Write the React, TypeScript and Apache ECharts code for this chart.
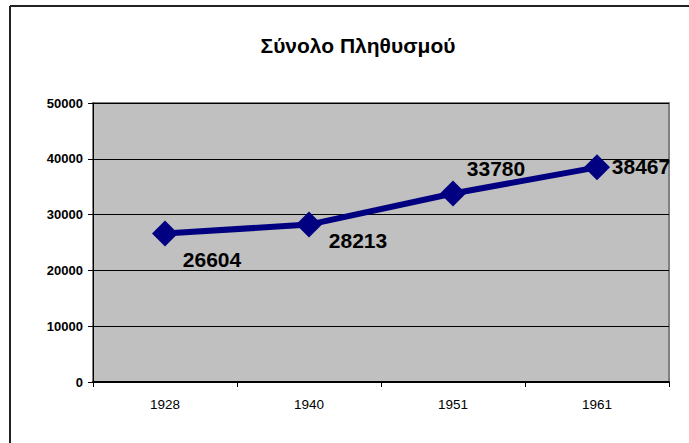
import React, { useEffect, useRef } from "react";
import * as echarts from "echarts";

const title = "Σύνολο Πληθυσμού";
const years = ["1928", "1940", "1951", "1961"];
const population = [26604, 28213, 33780, 38467];
const yTicks = { min: 0, max: 50000, interval: 10000 };

// label placement (style only)
const labelOffsets: [number, number][] = [
  [47, 26],
  [49, 16],
  [43, -25],
  [44, -1],
];

export default function App() {
  const ref = useRef<HTMLDivElement>(null);
  useEffect(() => {
    if (!ref.current) return;
    const chart = echarts.init(ref.current, null, { renderer: "svg" });
    chart.setOption({
      animation: false,
      backgroundColor: "#ffffff",
      title: {
        text: title,
        left: 353,
        top: 30,
        textAlign: "center",
        textStyle: {
          fontFamily: "Arial, Liberation Sans, sans-serif",
          fontWeight: "bold",
          fontSize: 21,
          color: "#000",
        },
      },
      graphic: [
        {
          type: "line",
          shape: { x1: 10, y1: 6, x2: 689, y2: 6 },
          style: { stroke: "#222", lineWidth: 2 },
        },
        {
          type: "line",
          shape: { x1: 10, y1: 6, x2: 10, y2: 443 },
          style: { stroke: "#222", lineWidth: 2 },
        },
      ],
      grid: {
        show: true,
        left: 93,
        top: 103,
        right: 20,
        bottom: 61,
        backgroundColor: "#C0C0C0",
        borderColor: "#808080",
        borderWidth: 2,
      },
      xAxis: {
        type: "category",
        data: years,
        boundaryGap: true,
        axisLine: { show: true, lineStyle: { color: "#000", width: 2 } },
        axisTick: { show: true, length: 5, lineStyle: { color: "#000" } },
        axisLabel: {
          margin: 15,
          fontFamily: "Arial, Liberation Sans, sans-serif",
          fontSize: 13.5,
          color: "#000",
        },
        splitLine: { show: false },
      },
      yAxis: {
        type: "value",
        min: yTicks.min,
        max: yTicks.max,
        interval: yTicks.interval,
        axisLine: { show: true, lineStyle: { color: "#000", width: 1 } },
        axisTick: { show: true, length: 5, lineStyle: { color: "#000" } },
        axisLabel: {
          margin: 10,
          formatter: (v: number) => String(v),
          fontFamily: "Arial, Liberation Sans, sans-serif",
          fontWeight: "bold",
          fontSize: 13,
          color: "#000",
        },
        splitLine: { show: true, lineStyle: { color: "#000", width: 1 } },
      },
      series: [
        {
          type: "line",
          data: population.map((v, i) => ({
            value: v,
            label: { offset: labelOffsets[i] },
          })),
          symbol: "diamond",
          symbolSize: 26,
          lineStyle: { color: "#000080", width: 6 },
          itemStyle: { color: "#000080" },
          label: {
            show: true,
            position: "inside",
            align: "center",
            verticalAlign: "middle",
            fontFamily: "Arial, Liberation Sans, sans-serif",
            fontWeight: "bold",
            fontSize: 21,
            color: "#000",
          },
        },
      ],
    });
    return () => chart.dispose();
  }, []);
  return (
    <div
      ref={ref}
      style={{ position: "fixed", left: 0, top: 0, width: 689, height: 443 }}
    />
  );
}
